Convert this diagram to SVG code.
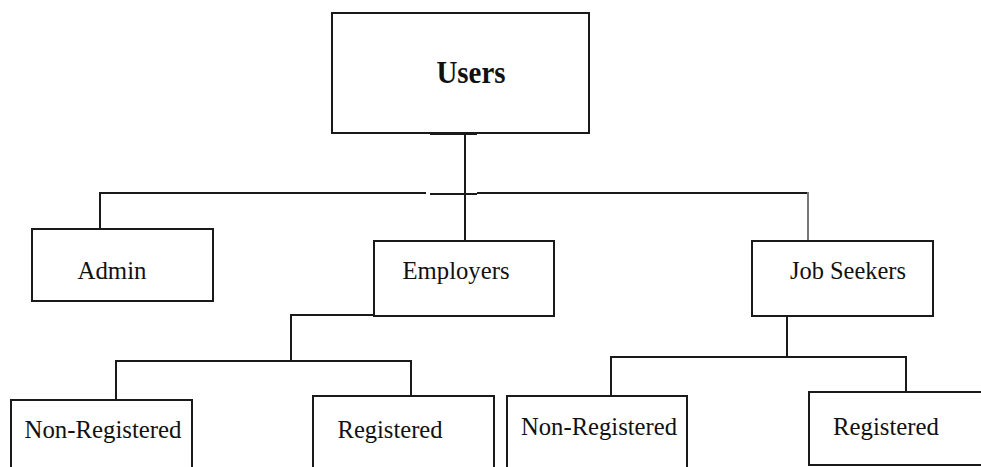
<svg xmlns="http://www.w3.org/2000/svg" width="981" height="467" viewBox="0 0 981 467">
<style>
.box{fill:#fff;stroke:#1a1a1a;stroke-width:2}
.lbl{font-family:"Liberation Serif","Times New Roman",serif;font-size:25px;fill:#111}
.title{font-family:"Liberation Serif","Times New Roman",serif;font-size:32px;font-weight:bold;fill:#111}
.conn line{stroke:#1a1a1a;stroke-width:2}
</style>
<rect width="981" height="467" fill="#fff"/>
<g class="conn" id="connectors">
<line x1="465" y1="133" x2="465" y2="241"/>
<line x1="430" y1="134" x2="477" y2="134"/>
<line x1="99" y1="193" x2="426" y2="193"/>
<line x1="430" y1="194" x2="477" y2="194"/>
<line x1="477" y1="193" x2="809" y2="193"/>
<line x1="100" y1="192" x2="100" y2="229"/>
<line x1="808" y1="192" x2="808" y2="241" style="stroke:#777"/>
<line x1="291" y1="315" x2="374" y2="315"/>
<line x1="291" y1="314" x2="291" y2="362"/>
<line x1="115" y1="361" x2="412" y2="361"/>
<line x1="116" y1="360" x2="116" y2="400"/>
<line x1="411" y1="360" x2="411" y2="396"/>
<line x1="787" y1="316" x2="787" y2="358"/>
<line x1="610" y1="357" x2="907" y2="357"/>
<line x1="611" y1="356" x2="611" y2="396"/>
<line x1="906" y1="356" x2="906" y2="392"/>
</g>
<g id="users">
<rect class="box" x="332" y="13" width="257" height="120"/>
<text class="title" x="471" y="83" text-anchor="middle" textLength="69" lengthAdjust="spacingAndGlyphs">Users</text>
</g>
<g id="admin">
<rect class="box" x="32" y="229" width="181" height="72"/>
<text class="lbl" x="112" y="279" text-anchor="middle" textLength="69" lengthAdjust="spacingAndGlyphs">Admin</text>
</g>
<g id="employers">
<rect class="box" x="374" y="241" width="180" height="75"/>
<text class="lbl" x="456" y="279" text-anchor="middle" textLength="107" lengthAdjust="spacingAndGlyphs">Employers</text>
</g>
<g id="jobseekers">
<rect class="box" x="752" y="241" width="181" height="75"/>
<text class="lbl" x="848" y="279" text-anchor="middle" textLength="116" lengthAdjust="spacingAndGlyphs">Job Seekers</text>
</g>
<g id="emp-nonreg">
<rect class="box" x="11" y="400" width="181" height="80"/>
<text class="lbl" x="103" y="438" text-anchor="middle" textLength="157" lengthAdjust="spacingAndGlyphs">Non-Registered</text>
</g>
<g id="emp-reg">
<rect class="box" x="313" y="396" width="181" height="84"/>
<text class="lbl" x="390" y="438" text-anchor="middle" textLength="105" lengthAdjust="spacingAndGlyphs">Registered</text>
</g>
<g id="js-nonreg">
<rect class="box" x="507" y="396" width="180" height="84"/>
<text class="lbl" x="599" y="435" text-anchor="middle" textLength="156" lengthAdjust="spacingAndGlyphs">Non-Registered</text>
</g>
<g id="js-reg">
<rect class="box" x="809" y="392" width="190" height="73"/>
<text class="lbl" x="886" y="435" text-anchor="middle" textLength="106" lengthAdjust="spacingAndGlyphs">Registered</text>
</g>
</svg>
